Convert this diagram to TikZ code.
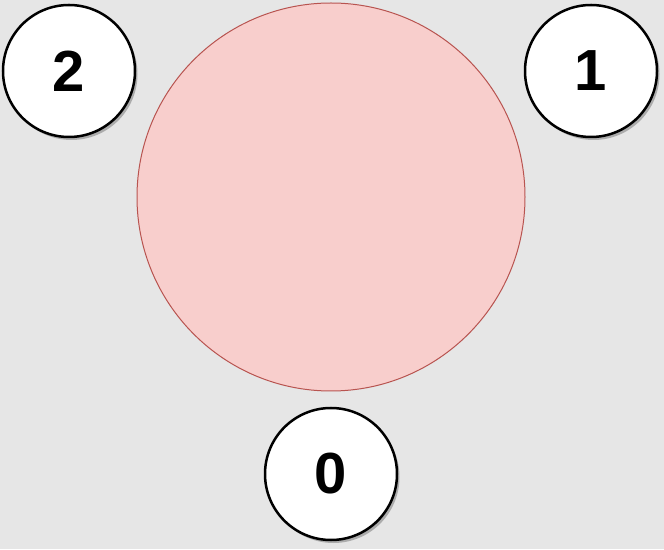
\documentclass[tikz,border=0pt]{standalone}
\usepackage{fontspec}
\setmainfont{Liberation Sans}
\usetikzlibrary{shadows}
\definecolor{bg}{HTML}{E6E6E6}
\definecolor{pinkfill}{HTML}{F8CECC}
\definecolor{pinkline}{HTML}{B85450}
\tikzset{
  numnode/.style={circle, draw=black, line width=2.5pt, fill=white, minimum size=132pt, inner sep=0pt,
    font=\fontsize{58}{60}\selectfont\bfseries,
    drop shadow={shadow xshift=2.5pt, shadow yshift=-3pt, fill=black, opacity=0.25}},
  bigcircle/.style={circle, draw=pinkline, line width=1pt, fill=pinkfill, minimum size=388pt, inner sep=0pt}
}
\begin{document}
\begin{tikzpicture}[x=1pt,y=1pt]
\fill[bg] (0,0) rectangle (664,549);
\useasboundingbox (0,0) rectangle (664,549);
\node[bigcircle] (big) at (331,352) {};
\node[numnode] (n2) at (69,478) {2};
\node[numnode] (n1) at (591,478) {1};
\node[numnode] (n0) at (331,75) {0};
\end{tikzpicture}
\end{document}
